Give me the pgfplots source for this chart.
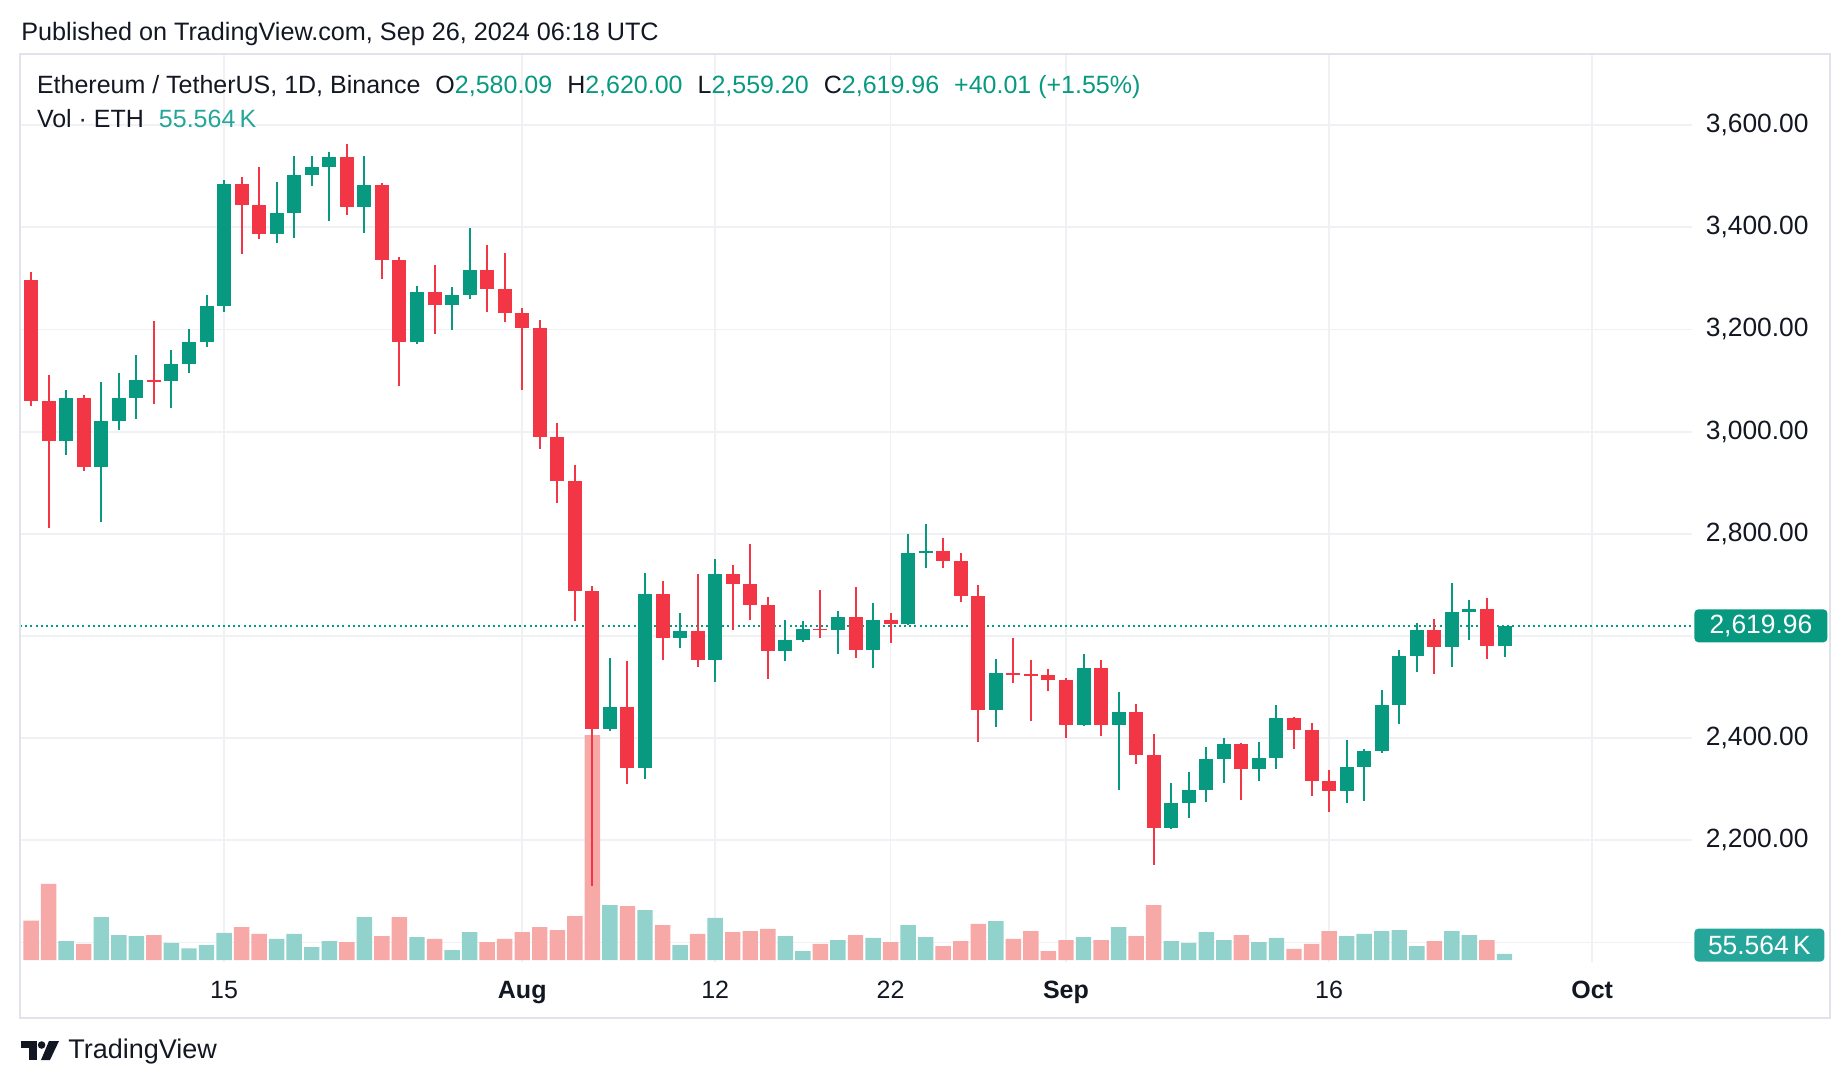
\documentclass[border=0pt]{standalone}
\usepackage{pgfplots}
\pgfplotsset{compat=1.18}
\usepackage{pgfplotstable}
\usepackage{fontspec}
\setmainfont{Liberation Sans}

\definecolor{upc}{HTML}{089981}
\definecolor{downc}{HTML}{F23645}
\definecolor{volup}{HTML}{92D2CC}
\definecolor{voldown}{HTML}{F7A9A8}
\definecolor{gridc}{HTML}{F0F1F5}
\definecolor{framec}{HTML}{E0E3EB}
\definecolor{txt}{HTML}{131722}
\definecolor{voltag}{HTML}{26A69A}

% d = days since Jul 4, 2024; O H L C in USDT; V in thousand ETH
\pgfplotstableread{
d O H L C V
2 2981 3082 2955 3066 170
4 2930 3098 2824 3020 385
5 3020 3115 3004 3066 225
6 3066 3150 3024 3101 215
8 3099 3159 3046 3133 155
9 3133 3201 3114 3176 105
10 3176 3268 3165 3245 135
11 3245 3492 3234 3484 245
14 3387 3489 3370 3427 190
15 3427 3540 3379 3503 235
16 3503 3540 3480 3517 115
17 3517 3547 3412 3537 170
19 3439 3540 3389 3482 385
22 3175 3285 3172 3274 205
24 3248 3283 3199 3268 90
25 3268 3398 3259 3317 250
33 2418 2556 2415 2461 495
35 2342 2724 2321 2683 450
37 2597 2645 2577 2610 135
39 2553 2751 2510 2722 380
43 2570 2631 2551 2592 215
44 2592 2629 2589 2614 80
46 2612 2649 2564 2637 180
48 2572 2665 2537 2631 200
50 2623 2800 2622 2763 315
51 2763 2820 2733 2767 205
55 2456 2555 2421 2527 350
60 2425 2565 2424 2537 205
62 2425 2490 2299 2451 295
65 2225 2312 2222 2273 170
66 2273 2334 2243 2298 155
67 2298 2382 2275 2359 250
68 2359 2400 2312 2388 180
70 2340 2392 2317 2362 160
71 2362 2465 2339 2439 200
75 2297 2396 2274 2343 215
76 2343 2378 2278 2375 235
77 2375 2494 2372 2465 260
78 2465 2573 2428 2561 270
79 2561 2625 2529 2612 125
81 2579 2704 2540 2647 260
82 2647 2671 2592 2652 225
84 2580.09 2620 2559.2 2619.96 55.564
}\upcandles

\pgfplotstableread{
d O H L C V
0 3296 3313 3051 3059 355
1 3059 3110 2811 2981 685
3 3066 3072 2923 2930 145
7 3101 3217 3055 3099 225
12 3484 3499 3348 3443 295
13 3443 3517 3377 3387 235
18 3537 3562 3423 3439 160
20 3482 3486 3299 3336 215
21 3336 3342 3089 3175 385
23 3274 3327 3192 3248 190
26 3317 3366 3234 3279 160
27 3279 3350 3214 3232 190
28 3232 3241 3082 3203 250
29 3203 3218 2966 2989 295
30 2989 3017 2860 2903 270
31 2903 2935 2630 2688 395
32 2688 2697 2111 2418 2025
34 2461 2551 2311 2342 485
36 2683 2708 2553 2597 315
38 2610 2721 2540 2553 235
40 2722 2739 2612 2701 250
41 2701 2780 2631 2660 260
42 2660 2676 2516 2570 280
45 2614 2690 2596 2612 145
47 2637 2696 2556 2572 225
49 2631 2645 2586 2623 160
52 2767 2792 2734 2746 125
53 2746 2763 2666 2679 170
54 2679 2700 2393 2456 325
56 2527 2596 2508 2525 190
57 2525 2553 2433 2523 260
58 2523 2535 2493 2513 80
59 2513 2518 2401 2425 180
61 2537 2553 2404 2425 180
63 2451 2466 2349 2368 215
64 2368 2408 2151 2225 495
69 2388 2390 2279 2340 225
72 2439 2441 2378 2417 100
73 2417 2429 2286 2316 145
74 2316 2337 2255 2297 260
80 2612 2633 2526 2579 170
83 2652 2675 2555 2580 180
}\downcandles

\pgfplotsset{
  pane/.style={at={(10pt,-27pt)}, anchor=north west,
    width=836pt, height=454pt, scale only axis,
    xmin=-0.633, xmax=94.69},
  price/.style={ymin=1962, ymax=3739},
  wick/.style={forget plot, draw=none, mark=none,
    error bars/.cd, y dir=both, y explicit, error mark=none,
    error bar style={draw=#1, line width=1pt}},
  body/.style={forget plot, draw=none, mark=none,
    error bars/.cd, y dir=both, y explicit, error mark=none,
    error bar style={draw=#1, line width=7pt}},
}

\begin{document}
\begin{tikzpicture}
\path[use as bounding box] (0,0) rectangle (924pt,-543pt);

% grid and axis labels
\begin{axis}[pane, price,
  axis line style={draw=none}, major tick length=0pt,
  grid=major, major grid style={draw=gridc, line width=0.9pt},
  xtick={11,28,39,49,59,74,89},
  xticklabels={15,\textbf{Aug},12,22,\textbf{Sep},16,\textbf{Oct}},
  ytick={2200,2400,2800,3000,3200,3400,3600}, yticklabel pos=right,
  extra y ticks={2000,2600}, extra y tick labels={},
  extra y tick style={grid=major, major tick length=0pt},
  yticklabel={\pgfmathprintnumber[fixed,fixed zerofill,precision=2,1000 sep={,}]{\tick}},
  /pgf/number format/assume math mode=true,
  tick label style={text=txt, inner sep=0pt},
  yticklabel style={font=\fontsize{13.2}{15}\selectfont, anchor=east, xshift=58.5pt},
  xticklabel style={font=\fontsize{12.5}{14}\selectfont, anchor=base, yshift=-18pt},
]
\addplot[forget plot, draw=none, mark=none] coordinates {(0,3000)};
\end{axis}

% volume
\begin{axis}[pane, ymin=-18, ymax=8154, hide axis]
\addplot[ybar, bar width=0.88, bar shift=0pt, fill=volup, draw=none] table[x=d, y=V] {\upcandles};
\addplot[ybar, bar width=0.88, bar shift=0pt, fill=voldown, draw=none] table[x=d, y=V] {\downcandles};
\end{axis}

% candles
\begin{axis}[pane, price,
  axis line style={draw=none}, major tick length=0pt,
  xtick=\empty, ytick=\empty, yticklabel pos=right,
  extra y ticks={2619.96}, extra y tick labels={2{,}619.96},
  extra y tick style={grid=none, major tick length=0pt,
    yticklabel style={font=\fontsize{13.2}{15}\selectfont, text=white, fill=upc,
      rounded corners=2pt, inner sep=0pt, minimum width=66.5pt,
      minimum height=16.5pt, anchor=west, xshift=1pt}},
]
\addplot[forget plot, upc, line width=1pt, dash pattern=on 1pt off 1.6pt]
  coordinates {(-0.633,2619.96) (94.69,2619.96)};
\addplot[wick=upc] table[x=d, y expr={(\thisrow{H}+\thisrow{L})/2},
  y error expr={(\thisrow{H}-\thisrow{L})/2}] {\upcandles};
\addplot[wick=downc] table[x=d, y expr={(\thisrow{H}+\thisrow{L})/2},
  y error expr={(\thisrow{H}-\thisrow{L})/2}] {\downcandles};
\addplot[body=upc] table[x=d, y expr={(\thisrow{O}+\thisrow{C})/2},
  y error expr={max(abs(\thisrow{C}-\thisrow{O})/2,1.5)}] {\upcandles};
\addplot[body=downc] table[x=d, y expr={(\thisrow{O}+\thisrow{C})/2},
  y error expr={max(abs(\thisrow{C}-\thisrow{O})/2,1.5)}] {\downcandles};
\end{axis}

% frame and volume tag
\draw[framec, line width=1pt] (10pt,-27pt) rectangle (915pt,-509pt);
\node[fill=voltag, text=white, rounded corners=2pt, inner sep=0pt,
  minimum width=65pt, minimum height=16.5pt, anchor=south west,
  font=\fontsize{13.2}{15}\selectfont] at (847pt,-481pt) {55.564\,K};

% header
\node[anchor=base west, text=txt, font=\fontsize{12.6}{14}\selectfont, inner sep=0pt]
  at (10.5pt,-20.3pt) {Published on TradingView.com, Sep 26, 2024 06:18 UTC};
\node[anchor=base west, text=txt, font=\fontsize{12.5}{14}\selectfont, inner sep=0pt]
  at (18.3pt,-47pt) {Ethereum / TetherUS, 1D, Binance\hspace{7.5pt}O\textcolor{upc}{2,580.09}\hspace{7.5pt}H\textcolor{upc}{2,620.00}\hspace{7.5pt}L\textcolor{upc}{2,559.20}\hspace{7.5pt}C\textcolor{upc}{2,619.96}\hspace{7.5pt}\textcolor{upc}{+40.01 (+1.55\%)}};
\node[anchor=base west, text=txt, font=\fontsize{12.5}{14}\selectfont, inner sep=0pt]
  at (18.3pt,-64pt) {Vol · ETH\hspace{7.5pt}\textcolor{voltag}{55.564\,K}};

% logo
\fill[txt] (10.5pt,-520.5pt) rectangle (18.5pt,-524pt);
\fill[txt] (14.5pt,-520.5pt) rectangle (18.5pt,-530pt);
\fill[txt] (20.8pt,-522.5pt) circle (1.9pt);
\fill[txt] (24.5pt,-520.5pt) -- (29.5pt,-520.5pt) -- (25pt,-530pt) -- (20.5pt,-530pt) -- cycle;
\node[anchor=base west, text=txt, font=\fontsize{13.5}{15}\selectfont, inner sep=0pt]
  at (34pt,-529pt) {TradingView};
\end{tikzpicture}
\end{document}
